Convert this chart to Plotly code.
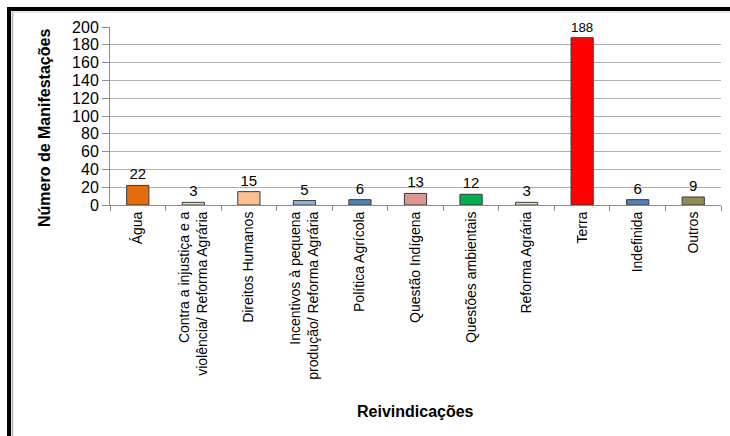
import plotly.graph_objects as go

categories = [
    "Água",
    "Contra a injustiça e a<br>violência/ Reforma Agrária",
    "Direitos Humanos",
    "Incentivos à pequena<br>produção/ Reforma Agrária",
    "Política Agrícola",
    "Questão Indígena",
    "Questões ambientais",
    "Reforma Agrária",
    "Terra",
    "Indefinida",
    "Outros",
]
values = [22, 3, 15, 5, 6, 13, 12, 3, 188, 6, 9]
colors = ["#E46C0A", "#D7E4BD", "#FAC090", "#8EB4E3", "#4F81BD", "#D99694",
          "#00B050", "#D7E4BD", "#FF0000", "#4F81BD", "#948A54"]
y_ticks = [0, 20, 40, 60, 80, 100, 120, 140, 160, 180, 200]

FONT = "Liberation Sans, Arial, sans-serif"

W, H = 730, 436
L, R, T, B = 110, 9, 27, 231
pw = W - L - R
ph = H - T - B

def px(x):
    return (x - L) / pw

def py(y):
    return (H - B - y) / ph

fig = go.Figure(go.Bar(
    x=categories, y=values,
    marker=dict(color=colors, line=dict(color="#3a3a3a", width=1)),
    text=[str(v) for v in values], textposition="outside",
    textfont=dict(family=FONT, size=15, color="black"),
    cliponaxis=False, width=0.4,
))

fig.update_layout(
    width=W, height=H,
    margin=dict(l=L, r=R, t=T, b=B),
    paper_bgcolor="white", plot_bgcolor="white",
    showlegend=False,
    font=dict(family=FONT, color="black"),
    xaxis=dict(
        tickangle=-90, tickfont=dict(size=14, color="black"),
        showline=True, linecolor="#8c8c8c", linewidth=1,
        ticks="outside", tickson="boundaries", ticklen=5, tickcolor="#8c8c8c",
        showgrid=False,
    ),
    yaxis=dict(
        range=[0, 200], tickvals=y_ticks,
        tickfont=dict(size=16, color="black"),
        showline=True, linecolor="#8c8c8c", linewidth=1,
        ticks="outside", ticklen=7, tickcolor="#8c8c8c",
        showgrid=True, gridcolor="#b0b0b0", gridwidth=1,
        zeroline=False,
    ),
    annotations=[
        dict(text="<b>Número de Manifestações</b>", xref="paper", yref="paper",
             x=px(45), y=py(128), textangle=-90, showarrow=False,
             font=dict(size=16, color="black"), xanchor="center", yanchor="middle"),
        dict(text="<b>Reivindicações</b>", xref="paper", yref="paper",
             x=px(415), y=py(411), showarrow=False,
             font=dict(size=16, color="black"), xanchor="center", yanchor="middle"),
    ],
    shapes=[
        dict(type="line", xref="paper", yref="paper", x0=px(7), x1=px(735),
             y0=py(9), y1=py(9), line=dict(color="black", width=4)),
        dict(type="line", xref="paper", yref="paper", x0=px(9), x1=px(9),
             y0=py(7), y1=py(440), line=dict(color="black", width=4)),
        dict(type="line", xref="paper", yref="paper", x0=px(12.5), x1=px(12.5),
             y0=py(12), y1=py(440), line=dict(color="#b0b0b0", width=1.5)),
        dict(type="line", xref="paper", yref="paper", x0=px(12), x1=px(735),
             y0=py(12), y1=py(12), line=dict(color="#d0d0d0", width=1)),
    ],
)

fig.write_html("out.html")
